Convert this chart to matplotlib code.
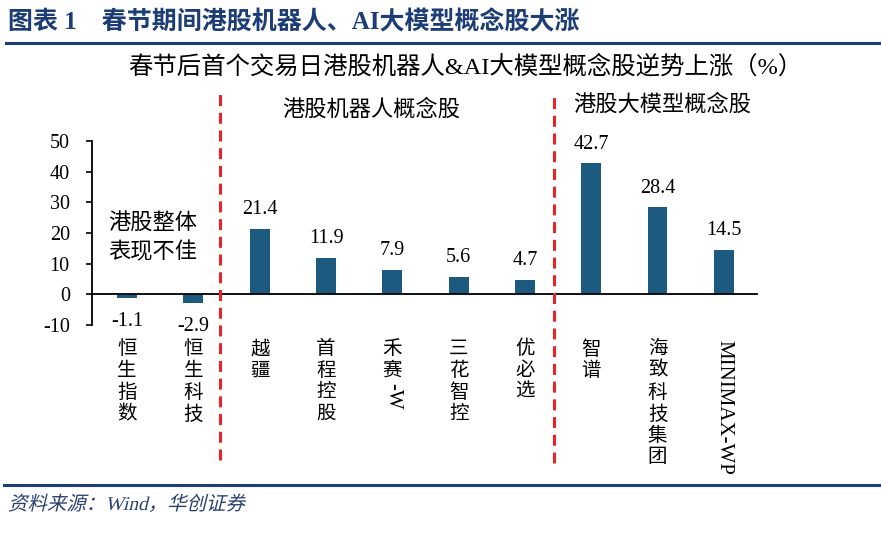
import matplotlib
matplotlib.use("Agg")
import matplotlib.pyplot as plt
from matplotlib.textpath import TextPath
from matplotlib.patches import PathPatch
from matplotlib.font_manager import FontProperties
from matplotlib.transforms import Affine2D

plt.rcParams["font.family"] = ["Liberation Serif", "Noto Sans CJK SC", "DejaVu Sans"]

names = ["恒生指数", "恒生科技", "越疆", "首程控股", "禾赛-W", "三花智控",
         "优必选", "智谱", "海致科技集团", "MINIMAX-WP"]
values = [-1.1, -2.9, 21.4, 11.9, 7.9, 5.6, 4.7, 42.7, 28.4, 14.5]
yticks = [-10, 0, 10, 20, 30, 40, 50]

W, H = 881, 537
BAR = "#1d5a80"
NAVY = "#1c3d75"
RED = "#e8232a"


def fx(px):
    return px / W


def fy(py):
    return 1 - py / H


fig = plt.figure(figsize=(W / 100, H / 100), dpi=100)
ax = fig.add_axes([fx(92), fy(325), fx(757) - fx(92), fy(141) - fy(325)])

x = list(range(len(names)))
ax.bar(x, values, width=0.3, color=BAR, zorder=2)
ax.set_xlim(-0.53, 9.5)
ax.set_ylim(-10, 50)
ax.set_yticks(yticks)
ax.set_yticklabels([str(t) for t in yticks])
ax.tick_params(axis="y", direction="out", length=4, width=1.2, pad=12,
               labelsize=14.5, colors="black")
ax.tick_params(axis="x", length=0, labelbottom=False)
for s in ["top", "right"]:
    ax.spines[s].set_visible(False)
ax.spines["bottom"].set_position(("data", 0))
ax.spines["bottom"].set_linewidth(1.3)
ax.spines["left"].set_linewidth(1.3)
ax.patch.set_alpha(0)

# value labels
for xi, v in zip(x, values):
    if v >= 0:
        ax.annotate(f"{v:.1f}", (xi, v), xytext=(0, 7), textcoords="offset points",
                    ha="center", va="bottom", fontsize=14.5)
    else:
        ax.annotate(f"{v:.1f}", (xi, v), xytext=(0, -10), textcoords="offset points",
                    ha="center", va="top", fontsize=14.5)

# vertical category labels (CJK stacked, latin rotated)
step = 21.7 * 0.72
for xi, name in zip(x, names):
    cur = 44 * 0.72
    i = 0
    while i < len(name):
        ch = name[i]
        if ord(ch) > 0x2E80:
            ax.annotate(ch, (xi, 0), xytext=(0, -(cur + step / 2)),
                        textcoords="offset points", ha="center", va="center",
                        fontsize=14, annotation_clip=False)
            cur += step
            i += 1
        else:
            j = i
            while j < len(name) and ord(name[j]) <= 0x2E80:
                j += 1
            ax.annotate(name[i:j], (xi, 0), xytext=(0, -(cur + 1)),
                        textcoords="offset points", ha="center", va="top",
                        rotation=270, fontsize=15, annotation_clip=False)
            i = j

# red dashed separators
for xd, top, bot in [(1.4, 1.288, -0.734), (6.44, 1.261, -0.75)]:
    ax.plot([xd, xd], [bot, top], transform=ax.get_xaxis_transform(),
            color=RED, lw=2.2, ls=(0, (3.6, 2.2)), clip_on=False, zorder=3)

# texts
fig.text(fx(8), fy(22), "图表 1    春节期间港股机器人、AI大模型概念股大涨",
         ha="left", va="center", fontsize=18, fontweight="bold", color=NAVY)
fig.add_artist(plt.Line2D([fx(6), 1], [fy(43), fy(43)], color=NAVY, lw=2.2))
fig.text(fx(465), fy(68), "春节后首个交易日港股机器人&AI大模型概念股逆势上涨（%）",
         ha="center", va="center", fontsize=17.6)
fig.text(fx(371), fy(110), "港股机器人概念股", ha="center", va="center", fontsize=16)
fig.text(fx(662), fy(105), "港股大模型概念股", ha="center", va="center", fontsize=16)
fig.text(fx(108), fy(223), "港股整体", ha="left", va="center", fontsize=16)
fig.text(fx(108), fy(253), "表现不佳", ha="left", va="center", fontsize=16)

fig.add_artist(plt.Line2D([fx(4), 1], [fy(485), fy(485)], color=NAVY, lw=2.2))

# footer, slanted like the original italic
fp = FontProperties(family=["Liberation Serif", "Noto Sans CJK SC"])
tp = TextPath((0, 0), "资料来源：Wind，华创证券", size=14, prop=fp)
tr = (Affine2D().skew_deg(14, 0).scale(1 / 72)
      .translate(8 / 100, (H - 510) / 100) + fig.dpi_scale_trans)
fig.add_artist(PathPatch(tp, transform=tr, color="#2b4170", lw=0))

fig.savefig("out.png", dpi=100)
